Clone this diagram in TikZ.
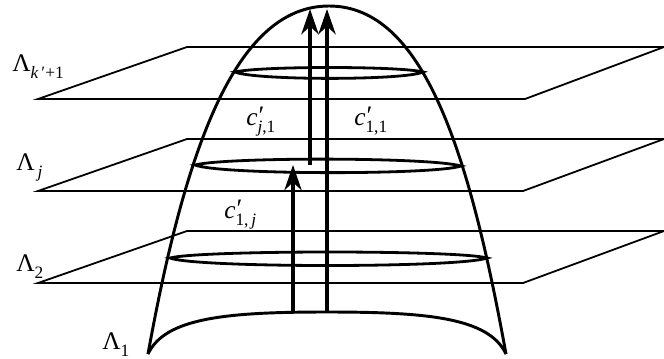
\documentclass[tikz,border=0pt]{standalone}
\usepackage{fontspec}
\setmainfont{Liberation Serif}
\usetikzlibrary{arrows.meta}
\newcommand{\subtxt}[1]{\raisebox{-0.28em}{\fontsize{13pt}{14pt}\selectfont #1}}
\newcommand{\suptxt}{\raisebox{0.02em}{\fontsize{20pt}{20pt}\selectfont\hspace{0.04em}′}}
\newcommand{\cprime}[1]{\textit{c}\rlap{\suptxt}\subtxt{#1}}
\tikzset{
  plane/.style={line width=1.35pt,line join=miter},
  surf/.style={line width=2.2pt,line join=round},
  lens/.style={line width=2.1pt},
  upar/.style={line width=2.3pt,-{Stealth[length=19pt,width=13pt,inset=6pt]}},
  lab/.style={anchor=base west,inner sep=0pt,font=\fontsize{19pt}{22pt}\selectfont}
}
\begin{document}
\begin{tikzpicture}[x=0.75pt,y=-0.75pt]
\useasboundingbox (0,0) rectangle (664,358);
% planes
\draw[plane] (187,47) -- (664,47) -- (525,99) -- (38,99) -- cycle;
\draw[plane] (187,139) -- (664,139) -- (523,191) -- (38,191) -- cycle;
\draw[plane] (187,231) -- (664,231) -- (523,283) -- (38,283) -- cycle;
% surface
\draw[surf] (148,354) .. controls (185,150) and (235,6) .. (329,6) .. controls (423,6) and (469,150) .. (506,354);
\draw[surf] (148,354) .. controls (165,318) and (225,312) .. (327,312) .. controls (429,312) and (489,318) .. (506,354);
% lenses
\draw[lens] (235,72) .. controls (260,66) and (400,66) .. (423,72) .. controls (405,80.5) and (255,80.5) .. cycle;
\draw[lens] (195,165) .. controls (225,157) and (430,157) .. (461,166) .. controls (435,175) and (220,175) .. cycle;
\draw[lens] (170,258) .. controls (200,250) and (460,250) .. (487,258) .. controls (460,268) and (195,268) .. cycle;
% arrows
\coordinate (a1) at (293,312); \coordinate (a2) at (293,165);
\coordinate (b1) at (327,312); \coordinate (b2) at (327,9);
\coordinate (c1) at (310,165); \coordinate (c2) at (310,9);
\draw[upar] (a1) -- (a2);
\draw[upar] (b1) -- (b2);
\draw[upar] (c1) -- (c2);
% labels
\node[lab] (lk) at (12,71) {Λ\subtxt{\textit{k}\,′+1}};
\node[lab] (lj) at (16,170) {Λ\subtxt{\,\textit{j}}};
\node[lab] (l2) at (16,271) {Λ\subtxt{2}};
\node[lab] (l1) at (102,349) {Λ\subtxt{1}};
\node[lab] (cj1) at (246,125) {\cprime{\textit{j},1}};
\node[lab] (c11) at (354,125) {\cprime{1,1}};
\node[lab] (c1j) at (224,218) {\cprime{1,\,\textit{j}}};
\end{tikzpicture}
\end{document}
